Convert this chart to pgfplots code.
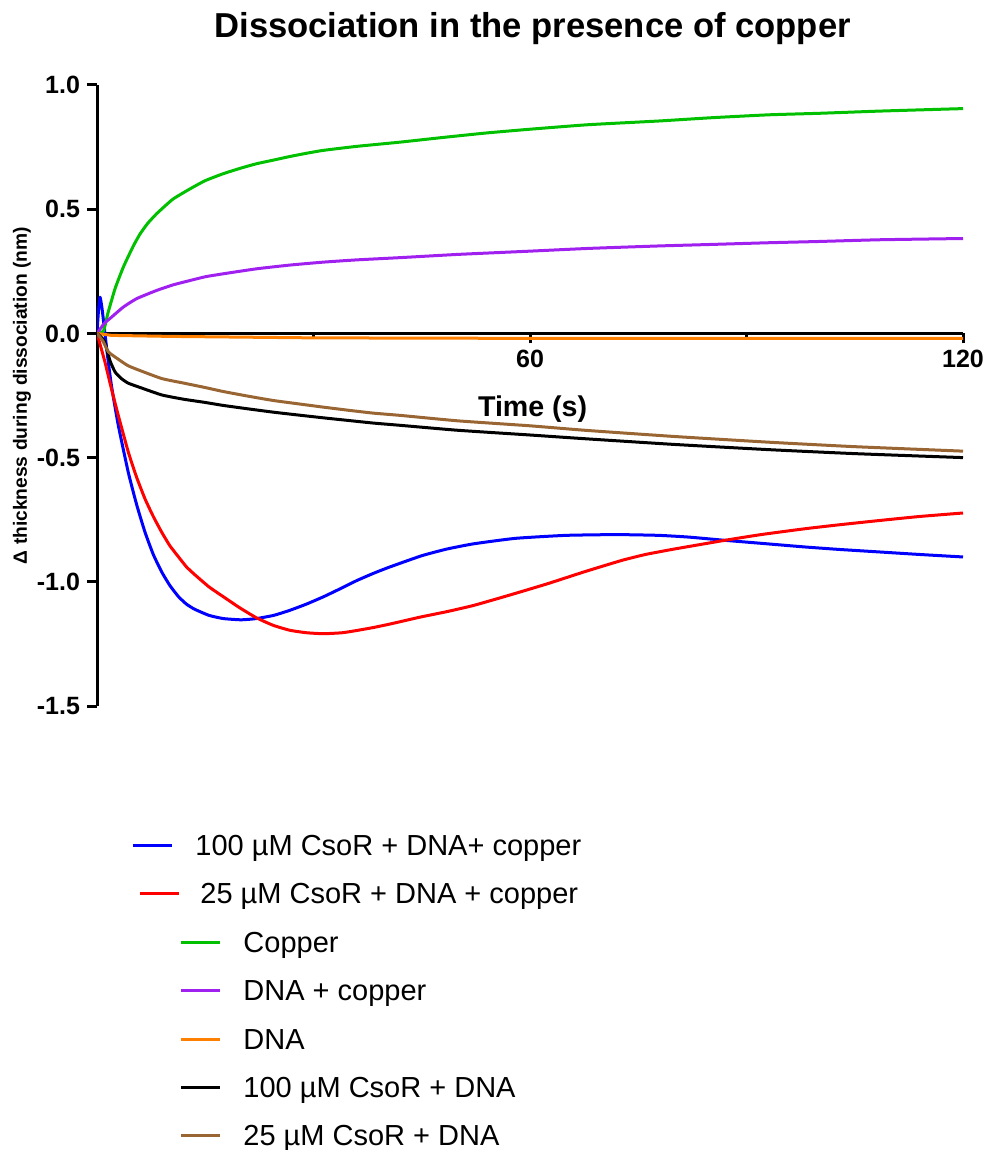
\documentclass[border=0pt]{standalone}
\usepackage{fontspec}
\setmainfont{Liberation Sans}
\usepackage{pgfplots}
\pgfplotsset{compat=1.18}

\definecolor{cgreen}{RGB}{0,192,0}
\definecolor{cpurple}{RGB}{160,32,240}
\definecolor{corange}{RGB}{255,128,0}
\definecolor{cbrown}{RGB}{153,102,51}

\begin{document}
\begin{tikzpicture}
\begin{axis}[
  width=433pt, height=310.5pt, scale only axis,
  xmin=0, xmax=120, ymin=-1.5, ymax=1.0,
  axis x line*=middle, axis y line*=left,
  axis line style={line width=1.5pt},
  xtick={60,120}, minor xtick={30,90},
  ytick={-1.5,-1,-0.5,0,0.5,1},
  tick align=outside,
  major tick length=5pt, minor tick length=2pt,
  every tick/.style={black, line width=1.5pt},
  /pgf/number format/assume math mode=true,
  yticklabel style={/pgf/number format/.cd, fixed, fixed zerofill, precision=1},
  tick label style={font=\fontsize{12.5}{15}\selectfont\bfseries},
  title={Dissociation in the presence of copper},
  every axis title shift=0pt,
  title style={font=\fontsize{17.3}{20}\selectfont\bfseries,
    at={(axis description cs:0.503,1.0757)}, anchor=base},
  xlabel={Time (s)},
  xlabel style={font=\fontsize{14.3}{17}\selectfont\bfseries,
    at={(axis description cs:0.503,0.4654)}, anchor=base},
  ylabel={Δ thickness during dissociation (nm)},
  ylabel style={font=\fontsize{9.6}{11}\selectfont\bfseries,
    at={(axis description cs:-0.0866,0.5)}, anchor=center},
  legend style={at={(axis description cs:0.0393,-0.2029)}, anchor=north west,
    draw=none, fill=none, inner sep=0pt,
    font=\fontsize{14.5}{17}\selectfont,
    row sep=11.2pt,
    nodes={inner sep=0pt, text height=11.5pt, text depth=1.5pt},
    /tikz/every odd column/.append style={column sep=11pt}},
  legend cell align=left,
  legend image code/.code={\draw[#1, line width=1.5pt] (0pt,0pt) -- (19.5pt,0pt);},
  every axis plot/.append style={line width=1.5pt, line join=round},
]
\coordinate (O) at (rel axis cs:0,0);

% 100 uM CsoR + DNA + copper
\addplot[blue, smooth, tension=0.3, legend image code/.code={\draw[blue, line width=1.5pt] (-24pt,0pt) -- (-4.5pt,0pt);}] coordinates {
  (0,0) (0.2,0.09) (0.42,0.146) (0.7,0.1) (1.1,0) (1.5,-0.1) (2.0,-0.21)
  (2.95,-0.37) (4.34,-0.56) (5.5,-0.69) (6.65,-0.80) (7.8,-0.89) (8.96,-0.96)
  (10.1,-1.015) (11.3,-1.06) (12.4,-1.09) (13.5,-1.11) (15.5,-1.135)
  (17.5,-1.148) (20,-1.153) (22.1,-1.148) (24.5,-1.135) (26.7,-1.115)
  (29,-1.09) (31.4,-1.06) (33.7,-1.028) (36,-0.995) (38.3,-0.966) (40.6,-0.94)
  (45,-0.895) (48.5,-0.868) (52.2,-0.847) (58,-0.825) (65,-0.813) (72,-0.81)
  (77.8,-0.813) (82,-0.82) (87,-0.833) (92,-0.845) (98.2,-0.86) (103,-0.87)
  (108.5,-0.88) (114,-0.89) (120,-0.90)
};
\addlegendentry{\hspace*{-24pt}100 µM CsoR + DNA+ copper}

% 25 uM CsoR + DNA + copper
\addplot[red, smooth, tension=0.3, legend image code/.code={\draw[red, line width=1.5pt] (-20.5pt,0pt) -- (-1pt,0pt);}] coordinates {
  (0,0) (1.1,-0.115) (2,-0.223) (2.95,-0.33) (4.34,-0.478) (5.5,-0.58)
  (6.65,-0.666) (7.8,-0.737) (8.96,-0.80) (10.1,-0.855) (11.3,-0.90)
  (12.4,-0.94) (13.5,-0.97) (15.5,-1.02) (17.5,-1.06) (19.8,-1.105)
  (22.1,-1.145) (24.4,-1.175) (26.7,-1.195) (29,-1.205) (31.4,-1.209)
  (34,-1.205) (36,-1.196) (38.3,-1.184) (40.6,-1.17) (44.8,-1.142)
  (48.5,-1.12) (52.2,-1.095) (57,-1.055) (62.4,-1.008) (67.5,-0.96)
  (72.7,-0.914) (76,-0.89) (80,-0.868) (87,-0.833) (92,-0.81) (98.2,-0.786)
  (103,-0.77) (108.5,-0.753) (114,-0.737) (120,-0.723)
};
\addlegendentry{\hspace*{-21.5pt}25 µM CsoR + DNA + copper}

% Copper
\addplot[cgreen, smooth, tension=0.3] coordinates {
  (0,0) (0.9,0.01) (1.5,0.08) (2.5,0.18) (3.65,0.267) (5,0.35) (5.96,0.40)
  (7,0.442) (8.27,0.482) (10.5,0.54) (12.9,0.582) (15,0.615) (17.5,0.643)
  (20,0.666) (22.1,0.683) (24.5,0.698) (26.7,0.712) (29,0.725) (31.4,0.737)
  (36,0.753) (42,0.770) (48,0.789) (54,0.807) (60,0.822) (68,0.84)
  (77.8,0.855) (85,0.868) (93.1,0.88) (100,0.886) (108.5,0.895) (120,0.905)
};
\addlegendentry{Copper}

% DNA + copper
\addplot[cpurple, smooth, tension=0.3] coordinates {
  (0,0) (1,0.04) (2,0.065) (3.65,0.106) (5.5,0.14) (8.27,0.173)
  (10.5,0.195) (12.9,0.213) (15,0.228) (17.5,0.24) (22.1,0.26) (26.7,0.275)
  (31.4,0.287) (36,0.296) (42,0.305) (50,0.318) (59.9,0.331) (68,0.342)
  (77.8,0.352) (85,0.358) (93.1,0.365) (100,0.370) (108.5,0.377) (120,0.382)
};
\addlegendentry{DNA + copper}

% DNA
\addplot[corange] coordinates {
  (0,0) (2,-0.008) (10,-0.012) (30,-0.018) (60,-0.02) (90,-0.02) (120,-0.02)
};
\addlegendentry{DNA}

% 100 uM CsoR + DNA
\addplot[black, smooth, tension=0.3] coordinates {
  (0,0) (1,-0.03) (1.8,-0.11) (2.5,-0.155) (3.3,-0.18) (4.3,-0.2) (6,-0.218)
  (9,-0.248) (12,-0.265) (15,-0.278) (17.5,-0.29) (21,-0.304) (24.4,-0.317)
  (28,-0.329) (31.4,-0.34) (35,-0.351) (38.3,-0.361) (42,-0.370) (50,-0.390)
  (60,-0.409) (67.6,-0.424) (80,-0.447) (93.1,-0.468) (105,-0.484) (120,-0.50)
};
\addlegendentry{100 µM CsoR + DNA}

% 25 uM CsoR + DNA
\addplot[cbrown, smooth, tension=0.3] coordinates {
  (0,0) (0.8,-0.03) (1.6,-0.075) (3,-0.105) (4.3,-0.13) (6,-0.15) (9,-0.182)
  (12,-0.2) (15,-0.218) (17.5,-0.234) (21,-0.253) (24.4,-0.27) (28,-0.284)
  (31.4,-0.297) (35,-0.31) (38.3,-0.321) (42,-0.33) (50,-0.352) (60,-0.372)
  (67.6,-0.39) (80,-0.415) (93.1,-0.438) (105,-0.456) (120,-0.474)
};
\addlegendentry{25 µM CsoR + DNA}
\end{axis}
\path (O) ++(-48.5pt,-222pt) rectangle ++(496.5pt,575pt);
\end{tikzpicture}
\end{document}
